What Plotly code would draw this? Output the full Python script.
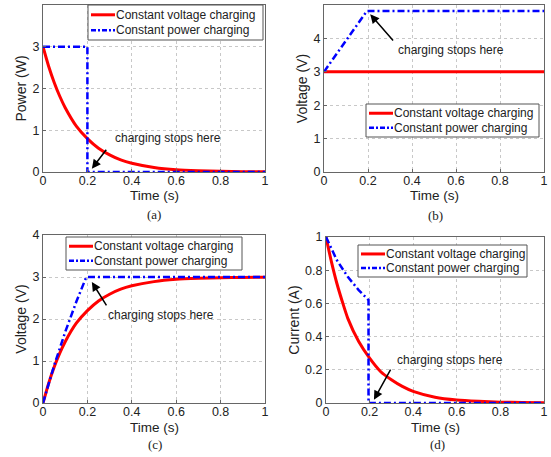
import plotly.graph_objects as go

# Constant voltage charging (sampled curves)
t_cv = [0, 0.025, 0.05, 0.075, 0.1, 0.15, 0.2, 0.25, 0.3, 0.35, 0.4, 0.5, 0.6, 0.7, 0.8, 0.9, 1.0]
p_cv = [3.0, 2.54, 2.15, 1.82, 1.54, 1.1, 0.8, 0.57, 0.41, 0.29, 0.21, 0.11, 0.055, 0.03, 0.015, 0.008, 0.004]
vs_cv = [3.0] * len(t_cv)
vc_cv = [0, 0.46, 0.85, 1.18, 1.46, 1.9, 2.2, 2.43, 2.59, 2.71, 2.79, 2.89, 2.945, 2.97, 2.985, 2.99, 2.996]
i_cv = [1.0, 0.85, 0.72, 0.61, 0.51, 0.37, 0.27, 0.19, 0.14, 0.10, 0.07, 0.035, 0.018, 0.01, 0.005, 0.003, 0.001]

# Constant power charging
t_cp_a = [0, 0.2, 0.2, 1.0]
p_cp = [3.0, 3.0, 0.0, 0.0]
t_cp_b = [0, 0.195, 1.0]
vs_cp = [3.0, 4.82, 4.82]
t_cp_c = [0, 0.05, 0.1, 0.15, 0.195, 1.0]
vc_cp = [0, 0.89, 1.69, 2.41, 3.0, 3.0]
t_cp_d = [0, 0.05, 0.1, 0.15, 0.195, 0.195, 1.0]
i_cp = [1.0, 0.86, 0.76, 0.68, 0.62, 0.0, 0.0]

legend_names = ["Constant voltage charging", "Constant power charging"]

W, H = 551, 457
RED = "#ff0000"
BLUE = "#0000ff"
DASH = "7px,3px,2px,3px"
font = "Arial, Liberation Sans, sans-serif"
TXT = "#222222"


def px(x):
    return x / W


def py(y):
    return 1 - y / H


fig = go.Figure()

# panel layout in window pixels: (axis suffix, x range, y range)
panels = [
    ("", (43, 265), (5, 172)),
    ("2", (324, 544), (5, 172)),
    ("3", (43, 265), (235, 403)),
    ("4", (326, 544), (237, 403)),
]

series = [
    (t_cv, p_cv, t_cp_a, p_cp),
    (t_cv, vs_cv, t_cp_b, vs_cp),
    (t_cv, vc_cv, t_cp_c, vc_cp),
    (t_cv, i_cv, t_cp_d, i_cp),
]

yranges = [[0, 4], [0, 5], [0, 4], [0, 1]]
ydticks = [1, 1, 1, 0.2]
ytitles = ["Power (W)", "Voltage (V)", "Voltage (V)", "Current (A)"]
xtitle_y = [195, 195, 427, 427]
# legend boxes in pixels: left, top, right, bottom
legend_box = [(88, 5, 263, 40), (366, 104, 539, 137), (66, 237, 242, 270), (358, 245, 527, 277)]

for k, (suf, (x0, x1), (y0, y1)) in enumerate(panels):
    tcv, ycv, tcp, ycp = series[k]
    xa = "x" + suf
    ya = "y" + suf
    fig.add_trace(go.Scatter(
        x=tcv, y=ycv, mode="lines", name=legend_names[0],
        line=dict(color=RED, width=3, shape="spline", smoothing=0.6),
        xaxis=xa, yaxis=ya, showlegend=False,
    ))
    fig.add_trace(go.Scatter(
        x=tcp, y=ycp, mode="lines", name=legend_names[1],
        line=dict(color=BLUE, width=2.5, dash=DASH),
        xaxis=xa, yaxis=ya, showlegend=False,
    ))
    axis_common = dict(
        showgrid=True, gridcolor="#c8c8c8", griddash="dot", gridwidth=1,
        showline=True, linecolor="#666666", linewidth=1, mirror=True,
        zeroline=False, ticks="inside", ticklen=3, tickcolor="#666666",
        tickfont=dict(family=font, size=12.5, color=TXT), automargin=False,
    )
    fig.layout["xaxis" + suf] = dict(
        domain=[px(x0), px(x1)], anchor=ya, range=[0, 1], ticklabelstandoff=-3,
        tickvals=[0, 0.2, 0.4, 0.6, 0.8, 1], ticktext=["0", "0.2", "0.4", "0.6", "0.8", "1"],
        **axis_common,
    )
    fig.layout["yaxis" + suf] = dict(
        domain=[py(y1), py(y0)], anchor=xa, range=yranges[k], dtick=ydticks[k],
        title=dict(text=ytitles[k], font=dict(family=font, size=14, color=TXT), standoff=2),
        **axis_common,
    )
    # x-axis title placed close under the tick labels
    fig.add_annotation(x=px((x0 + x1) / 2), y=py(xtitle_y[k]), xref="paper", yref="paper",
                       text="Time (s)", showarrow=False, xanchor="center", yanchor="middle",
                       borderpad=0, font=dict(family=font, size=13.5, color=TXT))

    # legend drawn as a boxed key
    lx0, ly0, lx1, ly1 = legend_box[k]
    fig.add_shape(type="rect", xref="paper", yref="paper",
                  x0=px(lx0), x1=px(lx1), y0=py(ly1), y1=py(ly0),
                  line=dict(color="#555555", width=1), fillcolor="white", layer="above")
    rows = [ly0 + (ly1 - ly0) * 0.28, ly0 + (ly1 - ly0) * 0.72]
    styles = [dict(color=RED, width=3), dict(color=BLUE, width=2.5, dash="5px,2px,2px,2px")]
    for r, name, st in zip(rows, legend_names, styles):
        fig.add_shape(type="line", xref="paper", yref="paper",
                      x0=px(lx0 + 3), x1=px(lx0 + 27), y0=py(r), y1=py(r),
                      line=st, layer="above")
        fig.add_annotation(x=px(lx0 + 27), y=py(r), xref="paper", yref="paper",
                           xanchor="left", yanchor="middle", text=name, showarrow=False,
                           borderpad=0, font=dict(family=font, size=12, color=TXT))

# "charging stops here" arrows: (axis suffix, text x, text y, tail x, tail y, head x, head y)
notes = [
    ("", 0.565, 0.81, 0.29, 0.57, 0.22, 0.08),
    ("2", 0.575, 3.65, 0.32, 3.89, 0.21, 4.72),
    ("3", 0.53, 2.1, 0.29, 2.29, 0.22, 2.88),
    ("4", 0.57, 0.26, 0.30, 0.21, 0.22, 0.02),
]
for suf, tx, ty, ax_, ay_, hx, hy in notes:
    xr, yr = "x" + suf, "y" + suf
    fig.add_annotation(x=tx, y=ty, xref=xr, yref=yr, text="charging stops here",
                       showarrow=False, xanchor="center", yanchor="middle",
                       font=dict(family=font, size=12, color=TXT))
    fig.add_annotation(x=hx, y=hy, ax=ax_, ay=ay_, xref=xr, yref=yr, axref=xr, ayref=yr,
                       text="", showarrow=True, arrowhead=2, arrowsize=1.2, arrowwidth=1.5,
                       arrowcolor="black")

# sub-figure labels
for lab, lx, ly in [("(a)", 154, 214), ("(b)", 435, 215), ("(c)", 155, 444), ("(d)", 437, 444)]:
    fig.add_annotation(x=px(lx), y=py(ly), xref="paper", yref="paper", text=lab,
                       showarrow=False, xanchor="center", yanchor="middle", borderpad=0,
                       font=dict(family="Liberation Serif, serif", size=13, color=TXT))

fig.update_layout(
    width=W, height=H, margin=dict(l=0, r=0, t=0, b=0),
    plot_bgcolor="white", paper_bgcolor="white", showlegend=False,
)

# drop the default page margin so the figure fills the window
fig.write_html("out.html", config={"displayModeBar": False},
               post_script="document.body.style.margin = '0';")
